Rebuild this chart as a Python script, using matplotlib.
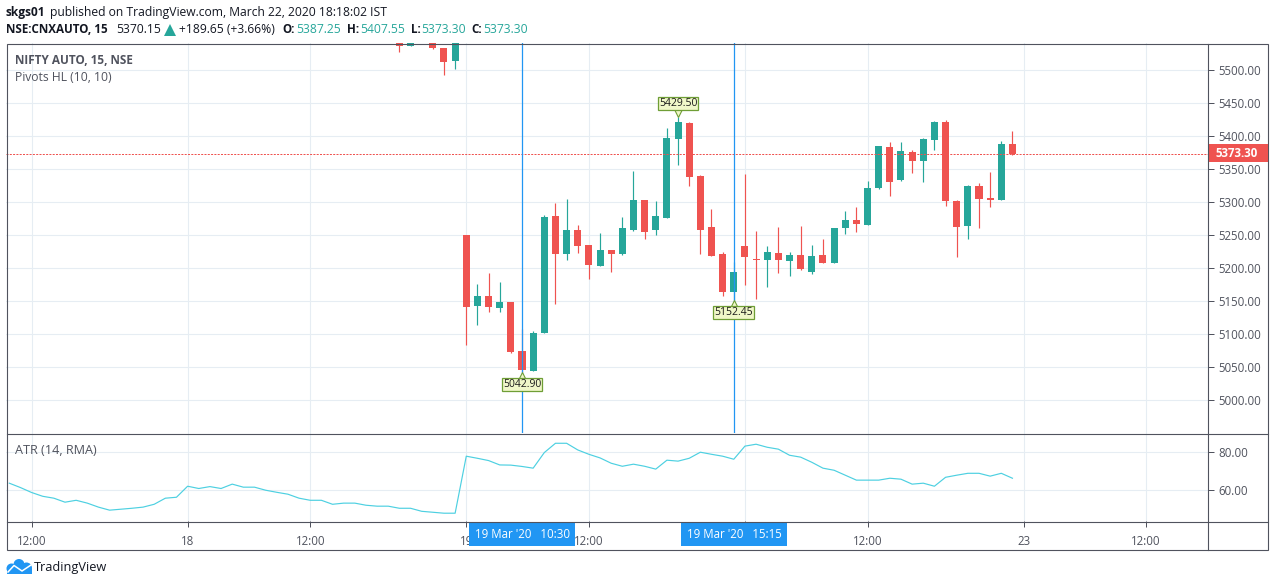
import matplotlib
matplotlib.use('Agg')
import matplotlib.pyplot as plt
from matplotlib.patches import Rectangle, Circle
from matplotlib.transforms import offset_copy

plt.rcParams['font.family'] = ['Open Sans', 'DejaVu Sans']

W, H = 1274, 586

# bar number: 0 is 19 Mar 09:15, 25 bars per session
first_bar = -6
opens = [5552, 5535.9, 5552, 5560, 5533.8, 5513.1,
         5250.5, 5141.9, 5158.1, 5138.9, 5149, 5074.7, 5044.4, 5102, 5279.3, 5221.7,
         5258.1, 5235.4, 5203.5, 5227.8, 5221.7, 5258.1, 5303.5, 5258.1, 5276.3, 5396,
         5420.2, 5339.9, 5262.6, 5221.7, 5164.1, 5233.8, 5214.1, 5212.6, 5223.2, 5211.1,
         5220.2, 5194.4, 5220.2, 5208.1, 5261.1, 5273.2, 5265.7, 5321.7, 5383.8, 5333.8,
         5376.3, 5362.6, 5394.4, 5421.7, 5302, 5264.1, 5324.8, 5306.6, 5303.5, 5388.4]
highs = [5570, 5560, 5578, 5566, 5533.8, 5560,
         5250.5, 5176.3, 5192.9, 5179.3, 5149, 5108, 5105.1, 5280.8, 5299, 5305,
         5265.7, 5235.4, 5253.5, 5227.8, 5277.8, 5347.5, 5303.5, 5302, 5412.6, 5429.5,
         5421.7, 5341.4, 5289.9, 5224.7, 5209.6, 5342.9, 5256.6, 5233.8, 5262.6, 5224.7,
         5264.1, 5235.4, 5244.4, 5261.1, 5286.9, 5292.9, 5332.3, 5385.4, 5391.4, 5391.4,
         5379.3, 5397.5, 5423.2, 5424.7, 5303.5, 5326.3, 5329.3, 5346, 5392.9, 5408]
lows = [5526.8, 5535.9, 5545, 5531.3, 5491.9, 5501,
        5083.8, 5114.1, 5133.8, 5133.8, 5071.7, 5042.9, 5044.4, 5102, 5146, 5212.6,
        5223.2, 5183.8, 5203.5, 5194.4, 5220.2, 5256.6, 5244.4, 5250.5, 5276.3, 5356.6,
        5324.8, 5221.7, 5218.7, 5158.1, 5152.45, 5174.8, 5153.5, 5171.7, 5192.9, 5188.4,
        5197.5, 5191.4, 5208.1, 5208.1, 5252, 5255, 5265.7, 5320.2, 5309.6, 5332.3,
        5344.4, 5330.8, 5379.3, 5294.4, 5217.2, 5244.4, 5261.1, 5292.9, 5303.5, 5371.7]
closes = [5535.9, 5552, 5565, 5532.8, 5511.6, 5555,
          5140.4, 5158.1, 5140.4, 5149, 5073.2, 5046, 5102, 5277.8, 5221.7, 5258.1,
          5233.8, 5205.1, 5227.8, 5221.7, 5261.1, 5303.5, 5255, 5279.3, 5397.5, 5421.7,
          5338.4, 5258.1, 5218.7, 5164.1, 5194.4, 5217.2, 5212.6, 5224.7, 5212.6, 5220.2,
          5199, 5218.7, 5208.1, 5261.1, 5273.2, 5267.2, 5321.7, 5385.4, 5330.8, 5377.8,
          5362.6, 5396, 5421.7, 5302, 5262.6, 5324.8, 5305, 5303.5, 5388.4, 5373.3]

atr_first_bar = -41
atr = [63.7, 61.4, 58.8, 56.8, 55.8, 53.7, 54.7, 53.2, 51.1, 49.5, 50.0, 50.5, 51.1, 52.6,
       55.8, 56.3, 62.1, 60.9, 61.9, 60.9, 63.2, 61.6, 61.6, 60.0, 58.9, 57.9, 55.8, 54.7,
       54.7, 52.6, 53.2, 53.2, 52.1, 51.6, 51.6, 50.5, 50.5, 48.9, 48.4, 47.9, 47.9,
       77.9, 76.8, 75.6, 73.3, 73.2, 72.5, 71.6, 79.8, 84.7, 84.7, 81.2, 78.9, 77.0, 74.2,
       72.6, 73.7, 72.6, 71.1, 75.8, 75.3, 76.8, 80.0, 78.9, 77.9, 76.3, 83.2, 84.2, 82.6,
       81.6, 78.4, 77.4, 74.7, 71.6, 70.5, 67.9, 65.3, 65.3, 65.3, 66.3, 65.8, 63.2, 63.7,
       62.1, 66.8, 67.9, 68.9, 68.9, 67.4, 68.9, 66.3]

time_ticks = [-39, -25, -14, 0, 11, 25, 36, 50, 61]
# the "20" label sits fully under the 15:15 tag
time_labels = ['12:00', '18', '12:00', '19', '12:00', '', '12:00', '23', '12:00']
price_ticks = [5000, 5050, 5100, 5150, 5200, 5250, 5300, 5350, 5400, 5450, 5500]
atr_ticks = [60, 80]

last_price = 5373.30
marked_bars = [5, 24]
marked_labels = ["19 Mar '20   10:30", "19 Mar '20   15:15"]
pivots = [(5, 5042.90, 'low'), (19, 5429.50, 'high'), (24, 5152.45, 'low')]

UP = '#26a69a'
DOWN = '#ef5350'
TEXT = '#50535e'
INK = '#131722'
GRID = '#e6edf3'
BLUE = '#2196f3'


def px_axes(left, top, right, bottom):
    return fig.add_axes([left / W, 1 - bottom / H, (right - left) / W, (bottom - top) / H])


fig = plt.figure(figsize=(W / 100, H / 100), dpi=100, facecolor='white')
ax = px_axes(6.5, 43.2, 1207.5, 433.2)
ax2 = px_axes(6.5, 433.2, 1207.5, 521)

xlim = (-41.25, 66.5)
for a in (ax, ax2):
    a.set_xlim(*xlim)
    a.set_xticks(time_ticks)
    a.grid(True, color=GRID, lw=0.8)
    a.set_axisbelow(True)
    a.yaxis.tick_right()
    a.tick_params(axis='y', length=4, width=0.72, color=TEXT, labelcolor=TEXT, labelsize=8.3, pad=4)
    for s in a.spines.values():
        s.set_visible(False)

ax.set_ylim(4950, 5540.6)
ax.set_yticks(price_ticks)
ax.set_yticklabels(['%.2f' % p for p in price_ticks])
ax.tick_params(axis='x', length=0, labelbottom=False)

for n in range(len(closes)):
    i = first_bar + n
    col = UP if closes[n] >= opens[n] else DOWN
    ax.vlines(i, lows[n], highs[n], color=col, lw=0.85, zorder=3)
    ax.bar(i, abs(closes[n] - opens[n]), bottom=min(opens[n], closes[n]), width=0.63,
           color=col, lw=0, zorder=3)

ax.axhline(last_price, color=DOWN, lw=0.72, ls=(0, (2, 1.3)), zorder=4)
for b in marked_bars:
    ax.axvline(b, color=BLUE, lw=0.9, zorder=5)

# pivot labels
for bar, price, kind in pivots:
    sign = 1 if kind == 'high' else -1
    tip = offset_copy(ax.transData, fig=fig, y=sign * 5, units='dots')
    ax.plot([bar], [price], marker='v' if sign > 0 else '^', ms=7, mfc='#f0f7c9', mec='#6f9e36',
            mew=0.8, transform=tip, zorder=6, clip_on=False)
    ax.annotate('%.2f' % price, xy=(bar, price), xytext=(0, sign * 13), textcoords='offset pixels',
                ha='center', va='center', fontsize=7.5, color='#1a1a1a', zorder=7,
                bbox=dict(boxstyle='square,pad=0.1', fc='#f0f7c9', ec='#6f9e36', lw=0.9))

ax2.set_ylim(43.8, 90)
ax2.set_yticks(atr_ticks)
ax2.set_yticklabels(['%.2f' % v for v in atr_ticks])
ax2.plot(range(atr_first_bar, atr_first_bar + len(atr)), atr, color='#4dd0e1', lw=0.85, zorder=3)
ax2.set_xticklabels(time_labels)
ax2.tick_params(axis='x', length=4, width=0.72, color=TEXT, labelcolor=TEXT, labelsize=8.3, pad=6)

# chrome drawn in pixel space
ov = fig.add_axes([0, 0, 1, 1], zorder=10)
ov.set_xlim(0, W)
ov.set_ylim(H, 0)
ov.axis('off')
ov.patch.set_alpha(0)

ov.add_patch(Rectangle((6.5, 43.5), 1261, 506, fc='none', ec=TEXT, lw=0.8))
ov.plot([1207.5, 1207.5], [43.5, 549.5], color=TEXT, lw=0.8)
ov.plot([6.5, 1267.5], [433.5, 433.5], color=TEXT, lw=0.8)
ov.plot([6.5, 1267.5], [521.5, 521.5], color=TEXT, lw=0.8)

# price tag
ov.add_patch(Rectangle((1208, 144), 59.5, 18, fc=DOWN, ec='none'))
ov.text(1216, 153.5, '%.2f' % last_price, color='white', fontsize=8.3, fontweight='bold', va='center')

# time tags
for b, lab in zip(marked_bars, marked_labels):
    cx = 466.3 + 11.143 * b
    ov.add_patch(Rectangle((cx - 53, 522), 106, 23.5, fc=BLUE, ec='none'))
    ov.text(cx + 0.5, 534, lab, color='white', fontsize=8.3, ha='center', va='center')

# header
line1 = 12.5
line2 = 29.5
hdr = 8.75
ov.text(6, line1, 'skgs01', fontsize=8.6, fontweight='bold', color=INK, va='center')
ov.text(50.5, line1, 'published on TradingView.com, March 22, 2020 18:18:02 IST', fontsize=hdr, color=INK, va='center')
ov.text(6, line2, 'NSE:CNXAUTO, 15', fontsize=8.4, fontweight='bold', color=INK, va='center')
ov.text(116.4, line2, '5370.15', fontsize=hdr, color=INK, va='center')
ov.plot([170], [line2], marker='^', ms=8, color=UP, mew=0)
ov.text(179, line2, '+189.65 (+3.66%)', fontsize=hdr, color=INK, va='center')
for lx, lab, vx, val in [(282, 'O:', 296, '5387.25'), (346.7, 'H:', 360, '5407.55'),
                         (410.5, 'L:', 421, '5373.30'), (471, 'C:', 483, '5373.30')]:
    ov.text(lx, line2, lab, fontsize=8.4, fontweight='bold', color=INK, va='center')
    ov.text(vx, line2, val, fontsize=hdr, color=UP, va='center')

ov.text(15, 60.5, 'NIFTY AUTO, 15, NSE', fontsize=8.5, fontweight='bold', color=TEXT, va='center')
ov.text(15, 77.5, 'Pivots HL (10, 10)', fontsize=8.7, color=TEXT, va='center')
ov.text(15, 450.5, 'ATR (14, RMA)', fontsize=9.1, color=TEXT, va='center')

# logo
logo = '#2196f3'
for cx, cy, r in [(11.5, 568.5, 5), (19, 564.5, 5.5), (26.5, 568, 5.5)]:
    ov.add_patch(Circle((cx, cy), r, fc=logo, ec='none'))
ov.add_patch(Rectangle((6.5, 568.5), 25.5, 5, fc=logo, ec='none'))
ov.plot([8, 14, 22, 31], [572, 565.5, 571, 565], color='white', lw=1.1)
ov.text(34, 567.5, 'TradingView', fontsize=9.2, color=INK, va='center')

fig.savefig('out.png', dpi=100, facecolor='white')
